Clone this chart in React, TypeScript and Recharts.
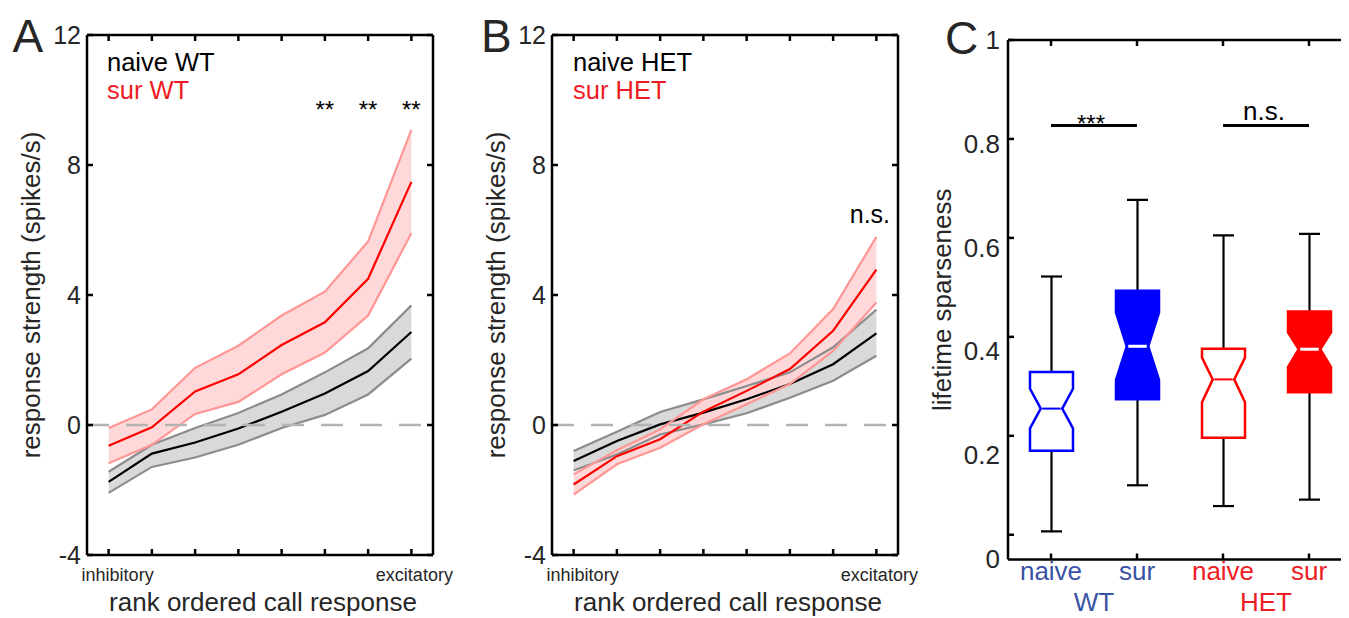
import React from 'react';
import { ComposedChart, Line, Area, Bar, Scatter, XAxis, YAxis, ReferenceLine } from 'recharts';

const FONT = '"Liberation Sans", Arial, Helvetica, sans-serif';
const INK = '#262626';
const RED_TEXT = '#ed1c24';
const BLUE_TEXT = '#3953a4';

// ---------- Panels A / B : rank ordered call response ----------
const rankPositions = [1, 2, 3, 4, 5, 6, 7, 8];
const responseTicks = [-4, 0, 4, 8, 12];

const wtNaiveMean = [-1.75, -0.88, -0.54, -0.11, 0.41, 0.97, 1.66, 2.86];
const wtNaiveUpper = [-1.44, -0.61, -0.09, 0.37, 0.94, 1.62, 2.36, 3.68];
const wtNaiveLower = [-2.09, -1.29, -1.0, -0.61, -0.09, 0.31, 0.94, 2.04];
const wtSurMean = [-0.64, -0.07, 1.03, 1.56, 2.46, 3.16, 4.5, 7.48];
const wtSurUpper = [-0.09, 0.48, 1.76, 2.44, 3.37, 4.1, 5.65, 9.08];
const wtSurLower = [-1.18, -0.61, 0.34, 0.71, 1.56, 2.23, 3.37, 5.9];

const hetNaiveMean = [-1.11, -0.49, 0.02, 0.38, 0.79, 1.26, 1.87, 2.82];
const hetNaiveUpper = [-0.8, -0.21, 0.4, 0.79, 1.2, 1.62, 2.39, 3.55];
const hetNaiveLower = [-1.4, -0.91, -0.29, 0.02, 0.36, 0.84, 1.36, 2.13];
const hetSurMean = [-1.83, -0.96, -0.44, 0.41, 1.05, 1.72, 2.9, 4.78];
const hetSurUpper = [-1.52, -0.78, -0.13, 0.79, 1.41, 2.2, 3.57, 5.79];
const hetSurLower = [-2.14, -1.21, -0.7, 0.02, 0.64, 1.26, 2.28, 3.77];

const wtNoteX = [6, 7, 8];
const wtNoteY = [9.45, 9.45, 9.45];
const wtNoteText = ['**', '**', '**'];
const hetNoteX = [7.85];
const hetNoteY = [6.23];
const hetNoteText = ['n.s.'];

// ---------- Panel C : lifetime sparseness ----------
const boxIds = ['WT naive', 'WT sur', 'HET naive', 'HET sur'];
const boxCategories = ['naive', 'sur', 'naive', 'sur'];
const boxGroups = ['WT', 'WT', 'HET', 'HET'];
const boxMin = [0.007, 0.1, 0.058, 0.071];
const boxQ1 = [0.17, 0.274, 0.196, 0.288];
const boxNotchLow = [0.215, 0.313, 0.268, 0.339];
const boxMedian = [0.255, 0.381, 0.314, 0.375];
const boxNotchHigh = [0.295, 0.449, 0.358, 0.409];
const boxQ3 = [0.329, 0.493, 0.376, 0.451];
const boxMax = [0.522, 0.677, 0.605, 0.608];
const boxFilled = [false, true, false, true];
const boxColors = ['#0000ff', '#0000ff', '#ff0000', '#ff0000'];
const boxTextColors = [BLUE_TEXT, BLUE_TEXT, RED_TEXT, RED_TEXT];
const sparseTicks = [0, 0.2, 0.4, 0.6, 0.8, 1];
const sigLevel = 0.827;

const axisLine = { stroke: '#000', strokeWidth: 2.5 };
const tickLine = { stroke: '#000', strokeWidth: 2.5 };
const noLabel = () => <g />;

const rankTick = (props: any) => {
  const { x, y, payload } = props;
  const v = payload.value;
  if (v !== 1 && v !== 8) return <g />;
  const label = v === 1 ? 'inhibitory' : 'excitatory';
  const dx = v === 1 ? 9 : 3;
  return (
    <text x={x + dx} y={y + 32} textAnchor="middle" fontSize={18} fill={INK} fontFamily={FONT}>
      {label}
    </text>
  );
};

const yTitle = (text: string, off: number) => (props: any) => {
  const vb = props.viewBox || { x: 0, y: 0, width: 0, height: 0 };
  const cx = vb.x + off;
  const cy = vb.y + vb.height / 2;
  return (
    <text x={cx} y={cy} transform={`rotate(-90 ${cx} ${cy})`} textAnchor="middle" fontSize={26} fill={INK} fontFamily={FONT}>
      {text}
    </text>
  );
};

const xTitle = (text: string) => (props: any) => {
  const vb = props.viewBox || { x: 0, y: 0, width: 0, height: 0 };
  return (
    <text x={vb.x + vb.width / 2 + 3} y={vb.y + 56} textAnchor="middle" fontSize={26} fill={INK} fontFamily={FONT}>
      {text}
    </text>
  );
};

const noteShape = (size: number) => (props: any) => {
  const { cx, cy, payload } = props;
  return (
    <text x={cx} y={cy} textAnchor="middle" fontSize={size} fill="#000" fontFamily={FONT}>
      {payload.text}
    </text>
  );
};

type RankProps = {
  left: number;
  naiveMean: number[];
  naiveUpper: number[];
  naiveLower: number[];
  surMean: number[];
  surUpper: number[];
  surLower: number[];
  noteX: number[];
  noteY: number[];
  noteText: string[];
  noteSize: number;
};

function RankPanel(p: RankProps) {
  const table = rankPositions.map((x, i) => ({
    x,
    naiveBand: [p.naiveLower[i], p.naiveUpper[i]],
    naiveLower: p.naiveLower[i],
    naiveUpper: p.naiveUpper[i],
    naiveMean: p.naiveMean[i],
    surBand: [p.surLower[i], p.surUpper[i]],
    surLower: p.surLower[i],
    surUpper: p.surUpper[i],
    surMean: p.surMean[i],
  }));
  const notes = p.noteX.map((x, i) => ({ x, y: p.noteY[i], text: p.noteText[i] }));
  const ids = { xAxisId: 'b', yAxisId: 'l' };
  return (
    <div style={{ position: 'absolute', left: p.left, top: 0 }}>
      <ComposedChart width={450} height={610} data={table} margin={{ top: 26, right: 24, left: 0, bottom: 0 }}>
        <XAxis xAxisId="b" dataKey="x" type="number" domain={[0.5, 8.5]} ticks={rankPositions} interval={0}
          height={63} tickSize={-6} tickMargin={0} axisLine={axisLine} tickLine={tickLine} tick={rankTick}
          allowDataOverflow label={xTitle('rank ordered call response')} />
        <XAxis xAxisId="t" orientation="top" dataKey="x" type="number" domain={[0.5, 8.5]} ticks={rankPositions}
          interval={0} height={1} tickSize={-6} tickMargin={0} axisLine={axisLine} tickLine={tickLine} tick={noLabel} allowDataOverflow />
        <YAxis yAxisId="l" type="number" domain={[-4, 12]} ticks={responseTicks} interval={0} width={79}
          tickSize={-6} tickMargin={12} axisLine={axisLine} tickLine={tickLine}
          tick={{ fontSize: 25, fill: INK, fontFamily: FONT }} allowDataOverflow
          label={yTitle('response strength (spikes/s)', 32)} />
        <YAxis yAxisId="r" orientation="right" type="number" domain={[-4, 12]} ticks={responseTicks} interval={0}
          width={1} tickSize={-6} tickMargin={0} axisLine={axisLine} tickLine={tickLine} tick={noLabel} allowDataOverflow />
        <Area {...ids} type="linear" dataKey="naiveBand" stroke="none" fill="#d9d9d9" fillOpacity={1} isAnimationActive={false} />
        <Line {...ids} type="linear" dataKey="naiveUpper" stroke="#8c8c8c" strokeWidth={2.2} dot={false} isAnimationActive={false} />
        <Line {...ids} type="linear" dataKey="naiveLower" stroke="#8c8c8c" strokeWidth={2.2} dot={false} isAnimationActive={false} />
        <Line {...ids} type="linear" dataKey="naiveMean" stroke="#000" strokeWidth={2.2} dot={false} isAnimationActive={false} />
        <Area {...ids} type="linear" dataKey="surBand" stroke="none" fill="#ffd6d6" fillOpacity={0.92} isAnimationActive={false} />
        <Line {...ids} type="linear" dataKey="surUpper" stroke="#ff9696" strokeWidth={2.2} dot={false} isAnimationActive={false} />
        <Line {...ids} type="linear" dataKey="surLower" stroke="#ff9696" strokeWidth={2.2} dot={false} isAnimationActive={false} />
        <Line {...ids} type="linear" dataKey="surMean" stroke="#ff0000" strokeWidth={2.2} dot={false} isAnimationActive={false} />
        <ReferenceLine {...ids} y={0} stroke="#b3b3b3" strokeWidth={2.5} strokeDasharray="22 17" />
        <Scatter {...ids} data={notes} dataKey="y" shape={noteShape(p.noteSize)} isAnimationActive={false} />
      </ComposedChart>
    </div>
  );
}

const boxShape = (props: any) => {
  const { x, y, width, height, payload } = props;
  const top = Math.min(y, y + height);
  const bottom = Math.max(y, y + height);
  const lo = payload.min;
  const hi = payload.max;
  const pix = (v: number) => top + ((hi - v) / (hi - lo)) * (bottom - top);
  const cx = x + width / 2;
  const hw = width / 2;
  const nw = width / 4;
  const cap = 10.5;
  const yMax = pix(hi);
  const yQ3 = pix(payload.q3);
  const yNH = pix(payload.notchHigh);
  const yMed = pix(payload.median);
  const yNL = pix(payload.notchLow);
  const yQ1 = pix(payload.q1);
  const yMin = pix(lo);
  const pts = [
    [cx - hw, yQ3], [cx + hw, yQ3], [cx + hw, yNH], [cx + nw, yMed], [cx + hw, yNL], [cx + hw, yQ1],
    [cx - hw, yQ1], [cx - hw, yNL], [cx - nw, yMed], [cx - hw, yNH],
  ].map((q) => q.join(',')).join(' ');
  const col = payload.color;
  return (
    <g>
      <line x1={cx} x2={cx} y1={yMax} y2={yQ3} stroke="#000" strokeWidth={2.2} />
      <line x1={cx} x2={cx} y1={yQ1} y2={yMin} stroke="#000" strokeWidth={2.2} />
      <line x1={cx - cap} x2={cx + cap} y1={yMax} y2={yMax} stroke="#000" strokeWidth={2.2} />
      <line x1={cx - cap} x2={cx + cap} y1={yMin} y2={yMin} stroke="#000" strokeWidth={2.2} />
      <polygon points={pts} fill={payload.filled ? col : '#fff'} stroke={col} strokeWidth={2.5} />
      <line x1={cx - nw + 1.5} x2={cx + nw - 1.5} y1={yMed} y2={yMed} stroke={payload.filled ? '#fff' : col} strokeWidth={payload.filled ? 3 : 2} />
    </g>
  );
};

const boxTick = (props: any) => {
  const { x, y, payload } = props;
  const i = boxIds.indexOf(payload.value);
  if (i < 0) return <g />;
  return (
    <g>
      <text x={x} y={y + 26.5} textAnchor="middle" fontSize={26} fill={boxTextColors[i]} fontFamily={FONT}>
        {boxCategories[i]}
      </text>
      {i % 2 === 0 ? (
        <text x={x + 43} y={y + 57.5} textAnchor="middle" fontSize={26} fill={boxTextColors[i]} fontFamily={FONT}>
          {boxGroups[i]}
        </text>
      ) : null}
    </g>
  );
};

const sparseTick = (props: any) => {
  const { x, y, payload } = props;
  const v = payload.value;
  const label = v === 0 ? '0' : v === 1 ? '1' : v.toFixed(1);
  return (
    <text x={x} y={y + (1 - v) * 24} dy="0.355em" textAnchor="end" fontSize={26} fill={INK} fontFamily={FONT}>
      {label}
    </text>
  );
};

const sigLabel = (text: string, dx: number, dy: number, size: number) => (props: any) => {
  const vb = props.viewBox || { x: 0, y: 0, width: 0, height: 0 };
  return (
    <text x={vb.x + vb.width / 2 + dx} y={vb.y + dy} textAnchor="middle" fontSize={size} fill="#000" fontFamily={FONT}>
      {text}
    </text>
  );
};

function SparsePanel() {
  const table = boxIds.map((id, i) => ({
    id,
    range: [boxMin[i], boxMax[i]],
    min: boxMin[i],
    q1: boxQ1[i],
    notchLow: boxNotchLow[i],
    median: boxMedian[i],
    notchHigh: boxNotchHigh[i],
    q3: boxQ3[i],
    max: boxMax[i],
    filled: boxFilled[i],
    color: boxColors[i],
  }));
  const ids = { xAxisId: 'b', yAxisId: 'l' };
  return (
    <div style={{ position: 'absolute', left: 920, top: 0 }}>
      <ComposedChart width={440} height={610} data={table} margin={{ top: 31, right: 15, left: 0, bottom: 0 }}>
        <XAxis xAxisId="b" dataKey="id" type="category" interval={0} height={58.5} tickSize={-6} tickMargin={0}
          axisLine={axisLine} tickLine={tickLine} tick={boxTick} />
        <XAxis xAxisId="t" orientation="top" dataKey="id" type="category" interval={0} height={1} tickSize={-6}
          tickMargin={0} axisLine={axisLine} tickLine={tickLine} tick={noLabel} />
        <YAxis yAxisId="l" type="number" domain={[-0.05, 1]} ticks={sparseTicks} interval={0} width={80}
          tickSize={-6} tickMargin={14} axisLine={axisLine} tickLine={tickLine} tick={sparseTick} allowDataOverflow
          label={yTitle('lifetime sparseness', 23)} />
        <YAxis yAxisId="r" orientation="right" type="number" domain={[-0.05, 1]} ticks={sparseTicks} interval={0}
          width={1} tickSize={-6} tickMargin={0} axisLine={axisLine} tickLine={{ stroke: '#999', strokeWidth: 2 }} tick={noLabel} allowDataOverflow />
        <Bar {...ids} dataKey="range" barSize={43} shape={boxShape} isAnimationActive={false} />
        <ReferenceLine {...ids} segment={[{ x: boxIds[0], y: sigLevel }, { x: boxIds[1], y: sigLevel }]}
          stroke="#000" strokeWidth={3} label={sigLabel('***', -3, 6, 24)} />
        <ReferenceLine {...ids} segment={[{ x: boxIds[2], y: sigLevel }, { x: boxIds[3], y: sigLevel }]}
          stroke="#000" strokeWidth={3} label={sigLabel('n.s.', -2, -6, 26)} />
      </ComposedChart>
    </div>
  );
}

export default function App() {
  return (
    <div style={{ position: 'relative', width: 1341, height: 610, overflow: 'hidden', fontFamily: FONT }}>
      <RankPanel left={0} naiveMean={wtNaiveMean} naiveUpper={wtNaiveUpper} naiveLower={wtNaiveLower}
        surMean={wtSurMean} surUpper={wtSurUpper} surLower={wtSurLower}
        noteX={wtNoteX} noteY={wtNoteY} noteText={wtNoteText} noteSize={24} />
      <RankPanel left={465} naiveMean={hetNaiveMean} naiveUpper={hetNaiveUpper} naiveLower={hetNaiveLower}
        surMean={hetSurMean} surUpper={hetSurUpper} surLower={hetSurLower}
        noteX={hetNoteX} noteY={hetNoteY} noteText={hetNoteText} noteSize={25} />
      <SparsePanel />
      <svg width={1341} height={610} style={{ position: 'absolute', left: 0, top: 0, pointerEvents: 'none' }}>
        <g fontFamily={FONT}>
          <text x={4.5} y={44} fontSize={46} fill={INK}>A</text>
          <text x={473} y={44} fontSize={46} fill={INK}>B</text>
          <text x={937} y={46} fontSize={46} fill={INK}>C</text>
          <text x={99} y={63} fontSize={25.5} fill="#000">naive WT</text>
          <text x={99} y={91} fontSize={25.5} fill={RED_TEXT}>sur WT</text>
          <text x={565} y={63} fontSize={25.5} fill="#000">naive HET</text>
          <text x={565} y={91} fontSize={25.5} fill={RED_TEXT}>sur HET</text>
        </g>
      </svg>
    </div>
  );
}
